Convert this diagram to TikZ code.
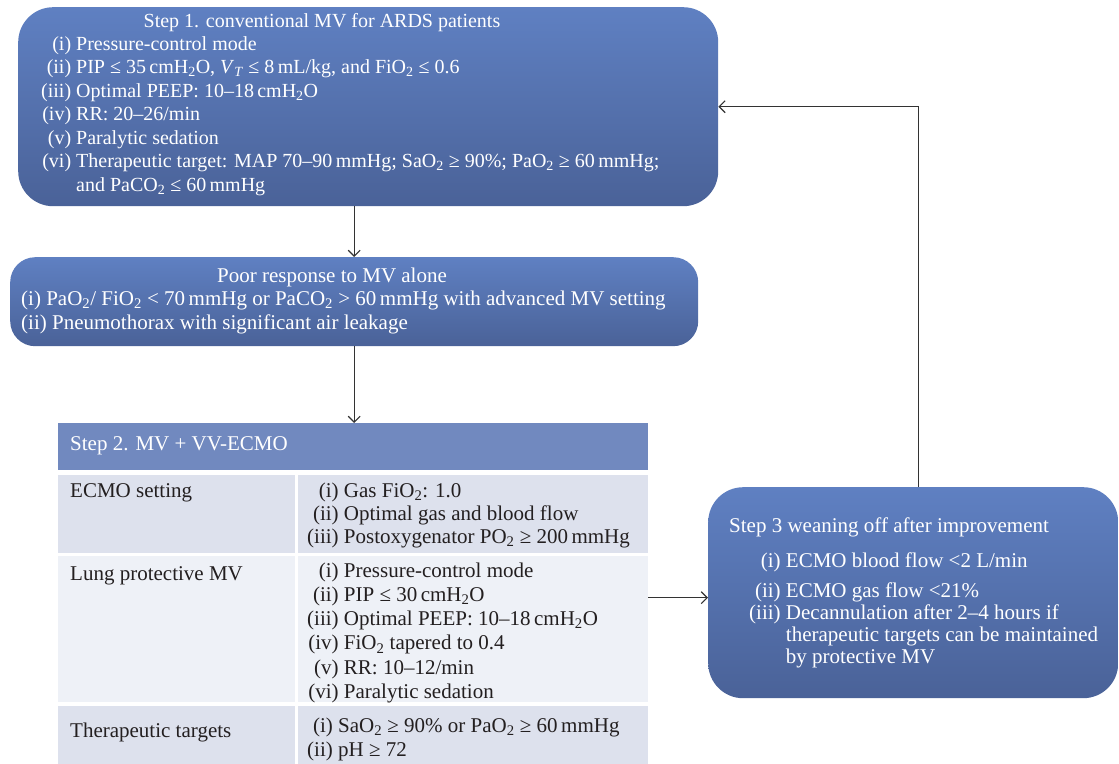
\documentclass[tikz,border=0pt]{standalone}
\usepackage{fontspec}
\setmainfont{Liberation Serif}
\usetikzlibrary{positioning, arrows.meta}
\definecolor{boxtop}{HTML}{5F80C2}
\definecolor{boxbot}{HTML}{4A6298}
\definecolor{headblue}{HTML}{7189BF}
\definecolor{rowdark}{HTML}{DDE1ED}
\definecolor{rowlight}{HTML}{EEF1F7}
\definecolor{tabtext}{HTML}{231F20}
\definecolor{linkgray}{HTML}{333333}
\newcommand{\ssub}[1]{\textsubscript{#1}}
\begin{document}
\begin{tikzpicture}[x=1pt, y=-1pt,
       >={Straight Barb[length=6pt,width=12pt]},
  rbox/.style = {rectangle, rounded corners=#1, top color=boxtop, bottom color=boxbot,
                 anchor=north west, inner sep=0pt},
  cell/.style = {rectangle, fill=#1, anchor=north west, inner sep=0pt},
  wtxt/.style = {text=white, inner sep=0pt, font=\fontsize{20}{23.5}\selectfont},
  dtxt/.style = {text=tabtext, inner sep=0pt, font=\fontsize{21}{24.3}\selectfont},
  link/.style = {draw=linkgray, line width=1.1pt}
                    ]
\useasboundingbox (0,0) rectangle (1119,763);
\node (s1) [rbox=35pt, minimum width=700pt, minimum height=199pt] at (18,7) {};
\node (s2) [rbox=25pt, minimum width=688pt, minimum height=89pt] at (10,257) {};
\node (s3) [rbox=35pt, minimum width=410pt, minimum height=211pt] at (708,487) {};
\node (hd) [cell=headblue, minimum width=590pt, minimum height=47pt] at (58,423) {};
\node (ea) [cell=rowdark,  minimum width=237pt, minimum height=78pt] at (58,475) {};
\node (eb) [cell=rowdark,  minimum width=350pt, minimum height=78pt] at (298,475) {};
\node (la) [cell=rowlight, minimum width=237pt, minimum height=146pt] at (58,556) {};
\node (lb) [cell=rowlight, minimum width=350pt, minimum height=146pt] at (298,556) {};
\node (ta) [cell=rowdark,  minimum width=237pt, minimum height=60pt] at (58,706) {};
\node (tb) [cell=rowdark,  minimum width=350pt, minimum height=60pt] at (298,706) {};
\node (s1h) [wtxt, anchor=base] at (322,27) {Step 1. conventional MV for ARDS patients};
\node (s1l) [wtxt, anchor=base west] at (41,50) {\begin{tabular}[t]{@{}r@{\ }l@{}}
  (i) & Pressure-control mode\\
  (ii) & PIP ≤ 35\,cmH\ssub{2}O, \textit{V}\ssub{\textit{T}} ≤ 8\,mL/kg, and FiO\ssub{2} ≤ 0.6\\
  (iii) & Optimal PEEP: 10–18\,cmH\ssub{2}O\\
  (iv) & RR: 20–26/min\\
  (v) & Paralytic sedation\\
  (vi) & Therapeutic target: MAP 70–90\,mmHg; SaO\ssub{2} ≥ 90\%; PaO\ssub{2} ≥ 60\,mmHg;\\
       & and PaCO\ssub{2} ≤ 60\,mmHg
  \end{tabular}};
\node (s2h) [wtxt, font=\fontsize{21}{24}\selectfont, anchor=base] at (332,282) {Poor response to MV alone};
\node (s2l) [wtxt, font=\fontsize{21}{24.5}\selectfont, anchor=base west] at (21,305) {\begin{tabular}[t]{@{}l@{}}
  (i) PaO\ssub{2}/ FiO\ssub{2} < 70\,mmHg or PaCO\ssub{2} > 60\,mmHg with advanced MV setting\\
  (ii) Pneumothorax with significant air leakage
  \end{tabular}};
\node (hdt) [wtxt, font=\fontsize{21}{24}\selectfont, anchor=base west] at (70,450) {Step 2. MV + VV-ECMO};
\node (eat) [dtxt, anchor=base west] at (70,497) {ECMO setting};
\node (ebt) [dtxt, font=\fontsize{21}{23}\selectfont, anchor=base west] at (307,497) {\begin{tabular}[t]{@{}r@{\ }l@{}}
  (i) & Gas FiO\ssub{2}: 1.0\\
  (ii) & Optimal gas and blood flow\\
  (iii) & Postoxygenator PO\ssub{2} ≥ 200\,mmHg
  \end{tabular}};
\node (lat) [dtxt, anchor=base west] at (70,580) {Lung protective MV};
\node (lbt) [dtxt, anchor=base west] at (307,577) {\begin{tabular}[t]{@{}r@{\ }l@{}}
  (i) & Pressure-control mode\\
  (ii) & PIP ≤ 30\,cmH\ssub{2}O\\
  (iii) & Optimal PEEP: 10–18\,cmH\ssub{2}O\\
  (iv) & FiO\ssub{2} tapered to 0.4\\
  (v) & RR: 10–12/min\\
  (vi) & Paralytic sedation
  \end{tabular}};
\node (tat) [dtxt, anchor=base west] at (70,737) {Therapeutic targets};
\node (tbt) [dtxt, anchor=base west] at (307,732) {\begin{tabular}[t]{@{}r@{\ }l@{}}
  (i) & SaO\ssub{2} ≥ 90\% or PaO\ssub{2} ≥ 60\,mmHg\\
  (ii) & pH ≥ 72
  \end{tabular}};
\node (s3h) [wtxt, font=\fontsize{21}{24}\selectfont, anchor=base west] at (729,532) {Step 3 weaning off after improvement};
\node (s3l) [wtxt, font=\fontsize{21}{22}\selectfont, anchor=base west] at (749,567) {\begin{tabular}[t]{@{}r@{\ }l@{}}
  (i) & ECMO blood flow <2 L/min\\[8pt]
  (ii) & ECMO gas flow <21\%\\
  (iii) & Decannulation after 2–4 hours if\\
        & therapeutic targets can be maintained\\
        & by protective MV
  \end{tabular}};
\coordinate (s3in) at ([yshift=-5pt]s3.west);
\draw[link, ->] (s1.south -| s2.north) -- (s2.north);
\draw[link, ->] (s2.south) -- (s2.south |- hd.north);
\draw[link, ->] (lb.east |- s3in) -- (s3in);
\draw[link, ->] ([xshift=5pt]s3.north) |- (s1.east);
\end{tikzpicture}
\end{document}
